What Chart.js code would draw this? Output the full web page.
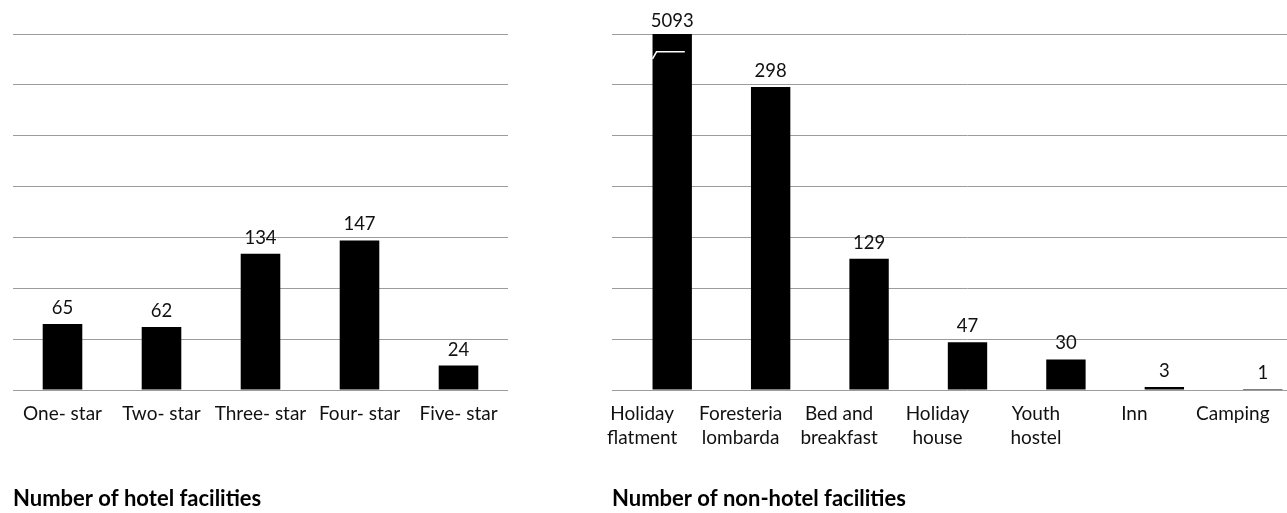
<!DOCTYPE html>
<html>
<head>
<meta charset="utf-8">
<script src="https://cdn.jsdelivr.net/npm/chart.js@4/dist/chart.umd.min.js"></script>
<style>
  html, body { margin: 0; padding: 0; background: #fff; overflow: hidden; width: 1287px; height: 513px; }
  #hotel { position: absolute; left: 0; top: 0; }
  #nonhotel { position: absolute; left: 600px; top: 0; }
</style>
</head>
<body>
<canvas id="hotel" width="520" height="513"></canvas>
<canvas id="nonhotel" width="712" height="513"></canvas>
<script>
// data
const hotelCategories = ["One- star", "Two- star", "Three- star", "Four- star", "Five- star"];
const hotelCounts = [65, 62, 134, 147, 24];

const nonHotelCategories = [
  ["Holiday", "flatment"],
  ["Foresteria", "lombarda"],
  ["Bed and", "breakfast"],
  ["Holiday", "house"],
  ["Youth", "hostel"],
  "Inn",
  "Camping",
];
const nonHotelCounts = [5093, 298, 129, 47, 30, 3, 1];

const yMax = 350;
const yStep = 50;

const FONT = "Lato, 'Open Sans', sans-serif";
const GRID = "#9c9c9c";

// value labels above bars + break mark on bars taller than the axis
const barLabels = {
  id: "barLabels",
  afterDatasetsDraw(chart) {
    const ctx = chart.ctx;
    const area = chart.chartArea;
    const yScale = chart.scales.y;
    const meta = chart.getDatasetMeta(0);
    const values = chart.data.datasets[0].data;
    ctx.save();
    meta.data.forEach((bar, i) => {
      const clipped = bar.y < area.top;
      const top = Math.max(bar.y, area.top);
      ctx.fillStyle = "#111";
      ctx.font = "18.5px " + FONT;
      ctx.textAlign = "center";
      ctx.textBaseline = "alphabetic";
      ctx.fillText(String(values[i]), bar.x, top - (clipped ? 7 : 10));
      if (clipped) {
        const left = bar.x - bar.width / 2;
        const y1 = yScale.getPixelForValue(yMax * 0.95);
        ctx.strokeStyle = "#fff";
        ctx.lineWidth = 1.5;
        ctx.beginPath();
        ctx.moveTo(left, y1 + 7);
        ctx.lineTo(left + 4, y1);
        ctx.lineTo(left + bar.width * 0.82, y1);
        ctx.stroke();
      }
    });
    ctx.restore();
  },
};

function makeChart(canvasId, labels, values, title, opts) {
  return new Chart(document.getElementById(canvasId), {
    type: "bar",
    data: {
      labels: labels,
      datasets: [
        {
          data: values,
          backgroundColor: "#000",
          barPercentage: 0.4,
          categoryPercentage: 1,
        },
      ],
    },
    options: {
      responsive: false,
      animation: false,
      layout: { padding: opts.padding },
      plugins: {
        legend: { display: false },
        tooltip: { enabled: false },
        title: {
          display: true,
          text: title,
          position: "bottom",
          align: "start",
          color: "#000",
          font: { family: FONT, size: 22, weight: "bold", lineHeight: 1.2 },
          padding: { top: 11, bottom: 1 },
        },
      },
      scales: {
        x: {
          grid: { display: false, drawTicks: false },
          border: { display: false },
          ticks: {
            color: "#111",
            font: { family: FONT, size: 19, lineHeight: 1.27 },
            padding: 12,
            maxRotation: 0,
            autoSkip: false,
            labelOffset: opts.labelOffset,
          },
          afterFit: (scale) => {
            scale.height = 84.6;
          },
        },
        y: {
          min: 0,
          max: yMax,
          ticks: { display: false, stepSize: yStep },
          grid: {
            color: GRID,
            lineWidth: 1,
            drawTicks: opts.tickLength > 0,
            tickLength: opts.tickLength,
          },
          border: { display: false },
        },
      },
    },
    plugins: [barLabels],
  });
}

makeChart("hotel", hotelCategories, hotelCounts, "Number of hotel facilities", {
  padding: { top: 34, left: 13, right: 12, bottom: 0 },
  tickLength: 0,
  labelOffset: 0,
});

makeChart("nonhotel", nonHotelCategories, nonHotelCounts, "Number of non-hotel facilities", {
  padding: { top: 34, left: 12, right: 0, bottom: 0 },
  tickLength: 11,
  labelOffset: -30,
});
</script>
</body>
</html>
